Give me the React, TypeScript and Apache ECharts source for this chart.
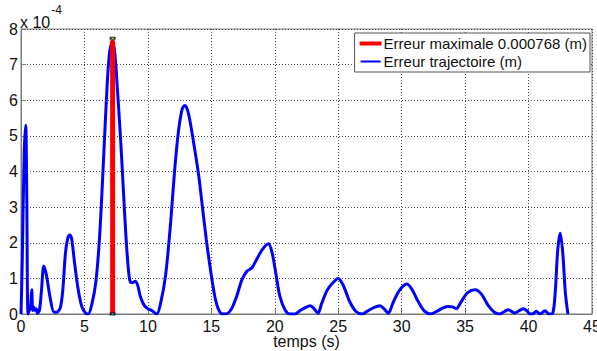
import React, { useEffect, useRef } from "react";
import * as echarts from "echarts";

// time (s)
const timeValues: number[] = [
  0, 0.1, 0.25, 0.37, 0.45, 0.55, 0.65, 0.75, 0.85, 0.92, 1.0, 1.1, 1.2, 1.3, 1.45, 1.6, 1.8, 2.0, 2.3, 2.6,
  2.8, 3.1, 3.3, 3.5, 3.7, 3.85, 4.0, 4.2, 4.5, 4.8, 5.1, 5.3, 5.6, 5.9, 6.2, 6.5, 6.8, 7.0, 7.22, 7.4,
  7.6, 7.85, 8.05, 8.25, 8.45, 8.6, 8.8, 9.0, 9.2, 9.4, 9.7, 10.0, 10.3, 10.7, 11.0, 11.4, 11.8, 12.1, 12.4, 12.7,
  12.9, 13.1, 13.3, 13.7, 14.0, 14.3, 14.6, 14.95, 15.3, 15.6, 15.9, 16.3, 16.6, 17.0, 17.4, 17.8, 18.2, 18.6, 19.0, 19.5,
  19.8, 20.1, 20.4, 20.8, 21.2, 21.6, 22.0, 22.4, 22.8, 23.1, 23.4, 23.7, 24.1, 24.5, 25.0, 25.4, 25.9, 26.4, 26.9, 27.3,
  27.8, 28.3, 28.6, 28.95, 29.3, 29.8, 30.4, 30.8, 31.3, 31.8, 32.3, 32.8, 33.3, 33.7, 34.0, 34.3, 34.7, 35.2, 35.8, 36.3,
  36.8, 37.3, 37.7, 38.1, 38.4, 38.9, 39.3, 39.6, 39.9, 40.1, 40.4, 40.6, 40.9, 41.3, 41.6, 41.9, 42.1, 42.3, 42.5, 42.7,
  42.9, 43.1,
];

// trajectory error, in units of 1e-4 m
const trajectoryErrorE4: number[] = [
  0, 1.5, 4.5, 5.3, 3.5, 0.0, 0.1, 0.2, 0.68, 0.1, 0.2, 0.1, 0.15, 0.02, 0.1, 0.6, 1.35, 1.1, 0.45, 0.05,
  0.05, 0.18, 0.7, 1.7, 2.15, 2.22, 2.1, 1.5, 0.7, 0.2, 0.02, 0.0, 0.3, 0.9, 2.2, 4.3, 6.5, 7.4, 7.66, 7.3,
  6.3, 4.9, 3.6, 2.3, 1.3, 0.92, 0.88, 0.92, 0.8, 0.5, 0.25, 0.15, 0.1, 0.0, 0.3, 1.1, 2.6, 4.0, 5.1, 5.75,
  5.85, 5.75, 5.45, 4.6, 3.9, 3.0, 2.1, 1.2, 0.45, 0.1, 0.0, 0.02, 0.15, 0.5, 0.95, 1.2, 1.3, 1.55, 1.8, 1.97,
  1.7, 1.1, 0.5, 0.12, 0.0, 0.0, 0.1, 0.18, 0.23, 0.15, 0.02, 0.3, 0.65, 0.85, 1.0, 0.8, 0.35, 0.07, 0.0, 0.08,
  0.18, 0.23, 0.15, 0.02, 0.3, 0.65, 0.84, 0.7, 0.35, 0.08, 0.0, 0.08, 0.18, 0.21, 0.2, 0.15, 0.35, 0.6, 0.68, 0.55,
  0.25, 0.05, 0.0, 0.07, 0.12, 0.03, 0.1, 0.15, 0.08, 0.0, 0.02, 0.08, 0.0, 0.09, 0.0, 0.02, 0.6, 1.8, 2.27, 1.7,
  0.6, 0.0,
];

const maxErrorTime = 7.22;
const maxErrorE4 = 7.68;

const xTicks = { min: 0, max: 45, interval: 5 };
const yTicks = { min: 0, max: 8, interval: 1 };

const legendMax = "Erreur maximale 0.000768 (m)";
const legendTraj = "Erreur trajectoire (m)";
const xAxisName = "temps (s)";

const FONT = "'Liberation Sans', Arial, sans-serif";

export default function App() {
  const ref = useRef<HTMLDivElement>(null);

  useEffect(() => {
    if (!ref.current) return;
    const chart = echarts.init(ref.current, undefined, { renderer: "svg" });
    const trajData = timeValues.map((t, i) => [t, trajectoryErrorE4[i]]);

    chart.setOption({
      animation: false,
      backgroundColor: "#ffffff",
      textStyle: { fontFamily: FONT },
      grid: {
        left: 21,
        right: 5,
        top: 29,
        bottom: 37,
        show: true,
        borderColor: "#7a7a7a",
        borderWidth: 1,
        backgroundColor: "transparent",
        containLabel: false,
        outerBoundsMode: "none",
      },
      legend: {
        orient: "vertical",
        right: 7,
        top: 33,
        padding: [3, 3, 3, 4],
        itemGap: 3,
        itemWidth: 22,
        itemHeight: 4,
        backgroundColor: "#ffffff",
        borderColor: "#555555",
        borderWidth: 1,
        borderRadius: 0,
        textStyle: { fontSize: 15, color: "#111", fontFamily: FONT, padding: [0, 0, 0, -3] },
        data: [
          { name: legendMax, icon: "rect", itemStyle: { color: "#ff0000" } },
          {
            name: legendTraj,
            icon: "rect",
            itemStyle: { color: "#0000ff", borderColor: "#ffffff", borderWidth: 2 },
          },
        ],
      },
      graphic: [
        {
          type: "text",
          left: 20,
          top: 4,
          style: {
            text: "{a|x 10}{b|-4}",
            rich: {
              a: { fontSize: 16, fontFamily: FONT, fill: "#111", padding: [10, 0, 0, 0] },
              b: { fontSize: 12, fontFamily: FONT, fill: "#111", verticalAlign: "top", padding: [0, 0, 0, 1] },
            },
          },
        },
        {
          type: "text",
          x: 306.5,
          y: 341,
          style: {
            text: xAxisName,
            fontSize: 16,
            fontFamily: FONT,
            fill: "#111",
            align: "center",
            verticalAlign: "middle",
          },
        },
      ],
      xAxis: {
        type: "value",
        min: xTicks.min,
        max: xTicks.max,
        interval: xTicks.interval,
        axisLine: { show: true, onZero: false, lineStyle: { color: "#7a7a7a", width: 1 } },
        axisTick: { show: true, inside: true, length: 5, lineStyle: { color: "#7a7a7a" } },
        axisLabel: { fontSize: 16, color: "#111", margin: 4, fontFamily: FONT },
        splitLine: { show: true, lineStyle: { color: "#444", type: [1, 2], width: 1 } },
      },
      yAxis: {
        type: "value",
        min: yTicks.min,
        max: yTicks.max,
        interval: yTicks.interval,
        axisLine: { show: true, lineStyle: { color: "#7a7a7a", width: 1 } },
        axisTick: { show: true, inside: true, length: 5, lineStyle: { color: "#7a7a7a" } },
        axisLabel: { fontSize: 16, color: "#111", margin: 3, fontFamily: FONT },
        splitLine: { show: true, lineStyle: { color: "#444", type: [1, 2], width: 1 } },
      },
      series: [
        {
          name: legendMax,
          type: "line",
          data: [
            [maxErrorTime, 0],
            [maxErrorTime, maxErrorE4],
          ],
          symbol: "none",
          lineStyle: { color: "#ff0000", width: 5 },
          itemStyle: { color: "#ff0000" },
          z: 5,
        },
        {
          name: legendTraj,
          type: "line",
          data: trajData,
          symbol: "none",
          smooth: 0.3,
          lineStyle: { color: "#0000ff", width: 3 },
          itemStyle: { color: "#0000ff" },
          z: 4,
        },
        {
          name: "markers",
          type: "scatter",
          data: [
            { value: [maxErrorTime, maxErrorE4 + 0.06], itemStyle: { color: "#ffff00", borderColor: "#000", borderWidth: 1 } },
            { value: [maxErrorTime, 0], itemStyle: { color: "#00ffff", borderColor: "#000", borderWidth: 1 } },
          ],
          symbol: "rect",
          symbolSize: [4, 2],
          z: 6,
          silent: true,
          clip: false,
        },
      ],
    });

    return () => {
      chart.dispose();
    };
  }, []);

  return (
    <div
      ref={ref}
      style={{ position: "fixed", left: 0, top: 0, width: 597, height: 351, background: "#fff" }}
    />
  );
}
